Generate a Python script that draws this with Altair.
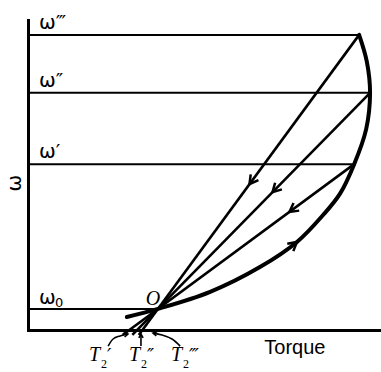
import math
import altair as alt
import pandas as pd

# Speeds reached on the accelerating curve before switching back
level_names = ["ω′", "ω″", "ω‴"]
level_speed = [53.5, 76.5, 95.2]
level_torque = [92.4, 96.9, 93.8]
# arrowheads on the return paths, as a fraction of the run out from O
return_arrow_at = [0.67, 0.54, 0.455]

# operating point O at base speed ω0
o_torque = 36.8
o_speed = 6.8

# accelerating torque–speed curve
curve_torque = [28.0, 36.8, 51.6, 65.7, 76.2, 83.6, 88.4, 92.4, 95.8, 96.9, 96.0, 93.8]
curve_speed = [4.2, 6.8, 12.3, 20.3, 28.4, 37.1, 44.0, 53.5, 64.8, 76.5, 86.5, 95.2]
curve_arrow_index = 4

# torque intercept labels under the axis and their pointers
t_label_primes = ["′", "″", "‴"]
t_label_torque = [17.3, 28.6, 40.5]
t_label_speed = -10.0
t_pointer_torque = [[22.7, 24.1, 26.1, 28.3], [32.0, 32.0], [43.1, 40.8, 38.0, 35.4]]
t_pointer_speed = [[-5.2, -2.9, -1.9, -1.3], [-5.2, -1.3], [-5.2, -2.9, -1.6, -1.0]]

tail_speed = -1.6  # return lines run just past the torque axis

W, H = 353, 310
SX, SY = W / 100.0, H / 100.0
CHEVRON = "M -1 -0.55 L 0 0 L -1 0.55"

AX = alt.Axis(title=None, labels=False, ticks=False, grid=False,
              domainColor="black", domainWidth=3, domainCap="square")
XS = alt.Scale(domain=[0, 100], nice=False, zero=False)
YS = alt.Scale(domain=[0, 100], nice=False, zero=False)


def X(f):
    return alt.X(f, type="quantitative", scale=XS, axis=AX)


def Y(f):
    return alt.Y(f, type="quantitative", scale=YS, axis=AX)


def screen_angle(t0, s0, t1, s1):
    a = math.degrees(math.atan2(-(s1 - s0) * SY, (t1 - t0) * SX))
    return a % 360


# horizontal speed lines from the ω axis to the curve
speed_lines = pd.DataFrame({
    "t0": [0.0] * 4,
    "t1": [o_torque] + level_torque,
    "s": [o_speed] + level_speed,
})
speed_layer = alt.Chart(speed_lines).mark_rule(color="black", strokeWidth=2).encode(
    x=X("t0"), x2="t1", y=Y("s"))

# straight return paths from each curve point back through O
ret_rows = []
arrow_rows = []
for tc, sc, f in zip(level_torque, level_speed, return_arrow_at):
    t_tail = o_torque + (tc - o_torque) * (tail_speed - o_speed) / (sc - o_speed)
    ret_rows.append({"t0": tc, "s0": sc, "t1": t_tail, "s1": tail_speed})
    arrow_rows.append({
        "t": o_torque + f * (tc - o_torque),
        "s": o_speed + f * (sc - o_speed),
        "a": screen_angle(tc, sc, o_torque, o_speed),
    })
ret_layer = alt.Chart(pd.DataFrame(ret_rows)).mark_rule(color="black", strokeWidth=2.6).encode(
    x=X("t0"), x2="t1", y=Y("s0"), y2="s1")

# the curve itself
curve_df = pd.DataFrame({"t": curve_torque, "s": curve_speed, "i": range(len(curve_torque))})
curve_layer = alt.Chart(curve_df).mark_line(
    color="black", strokeWidth=4, interpolate="catmull-rom", strokeCap="round").encode(
    x=X("t"), y=Y("s"), order="i:Q")

k = curve_arrow_index
arrow_rows.append({
    "t": curve_torque[k], "s": curve_speed[k],
    "a": screen_angle(curve_torque[k - 1], curve_speed[k - 1], curve_torque[k + 1], curve_speed[k + 1]),
})
arrow_layer = alt.Chart(pd.DataFrame(arrow_rows)).mark_point(
    shape=CHEVRON, filled=False, size=300, color="black", strokeWidth=2.5, opacity=1).encode(
    x=X("t"), y=Y("s"), angle=alt.Angle("a:Q", scale=None))

# pointers from the T2 labels
ptr_rows, tip_rows = [], []
for j, (ts, ss) in enumerate(zip(t_pointer_torque, t_pointer_speed)):
    for i, (t, s) in enumerate(zip(ts, ss)):
        ptr_rows.append({"id": j, "i": i, "t": t, "s": s})
    tip_rows.append({"t": ts[-1], "s": ss[-1], "a": screen_angle(ts[-2], ss[-2], ts[-1], ss[-1])})
ptr_layer = alt.Chart(pd.DataFrame(ptr_rows)).mark_line(
    color="black", strokeWidth=1.6, interpolate="cardinal").encode(
    x=X("t"), y=Y("s"), detail="id:N", order="i:Q")
tip_layer = alt.Chart(pd.DataFrame(tip_rows)).mark_point(
    shape=CHEVRON, filled=False, size=60, color="black", strokeWidth=1.6, opacity=1).encode(
    x=X("t"), y=Y("s"), angle=alt.Angle("a:Q", scale=None))

# speed labels
lvl_df = pd.DataFrame({"t": [3.1] * 3, "s": level_speed, "name": level_names})
lvl_text = alt.Chart(lvl_df).mark_text(
    align="left", baseline="alphabetic", dy=-6, font="DejaVu Sans", fontSize=20, color="black").encode(
    x=X("t"), y=Y("s"), text="name:N")

w0_df = pd.DataFrame({"t": [3.1], "s": [o_speed], "name": ["ω"], "sub": ["0"]})
w0_text = alt.Chart(w0_df).mark_text(
    align="left", baseline="alphabetic", dy=-5, font="DejaVu Sans", fontSize=20, color="black").encode(
    x=X("t"), y=Y("s"), text="name:N")
w0_sub = alt.Chart(w0_df).mark_text(
    align="left", baseline="alphabetic", dx=16, dy=-2, font="DejaVu Sans", fontSize=13, color="black").encode(
    x=X("t"), y=Y("s"), text="sub:N")

# point O
o_df = pd.DataFrame({"t": [o_torque], "s": [o_speed], "name": ["O"]})
o_text = alt.Chart(o_df).mark_text(
    align="center", baseline="middle", dx=-5, dy=-10, font="Liberation Serif",
    fontStyle="italic", fontSize=20, color="black").encode(
    x=X("t"), y=Y("s"), text="name:N")

# T2 labels
tl_df = pd.DataFrame({"t": t_label_torque, "s": [t_label_speed] * 3,
                      "T": ["T"] * 3, "two": ["2"] * 3, "p": t_label_primes})
tl_T = alt.Chart(tl_df).mark_text(
    align="left", baseline="alphabetic", font="Liberation Serif", fontStyle="italic",
    fontSize=20, color="black").encode(x=X("t"), y=Y("s"), text="T:N")
tl_2 = alt.Chart(tl_df).mark_text(
    align="left", baseline="alphabetic", dx=12, dy=7, font="Liberation Serif",
    fontSize=12, color="black").encode(x=X("t"), y=Y("s"), text="two:N")
tl_p = alt.Chart(tl_df).mark_text(
    align="left", baseline="alphabetic", dx=18, dy=1, font="DejaVu Serif", fontStyle="italic",
    fontSize=19, color="black").encode(x=X("t"), y=Y("s"), text="p:N")

# axis titles
ttl_df = pd.DataFrame({"t": [75.6, -3.7], "s": [-5.8, 47.4], "name": ["Torque", "ω"]})
torque_text = alt.Chart(ttl_df.iloc[[0]]).mark_text(
    align="center", baseline="middle", font="Liberation Sans", fontSize=20, color="black").encode(
    x=X("t"), y=Y("s"), text="name:N")
omega_text = alt.Chart(ttl_df.iloc[[1]]).mark_text(
    align="center", baseline="middle", angle=270, font="DejaVu Sans", fontSize=20, color="black").encode(
    x=X("t"), y=Y("s"), text="name:N")

chart = alt.layer(
    speed_layer, ret_layer, curve_layer, arrow_layer, ptr_layer, tip_layer,
    lvl_text, w0_text, w0_sub, o_text, tl_T, tl_2, tl_p, torque_text, omega_text,
).properties(
    width=W, height=H,
    autosize=alt.AutoSizeParams(type="none"),
    padding={"left": 28, "top": 20, "right": 0, "bottom": 42},
).configure_view(stroke=None)

chart.save("out.html", embed_options={"renderer": "svg", "actions": False})
